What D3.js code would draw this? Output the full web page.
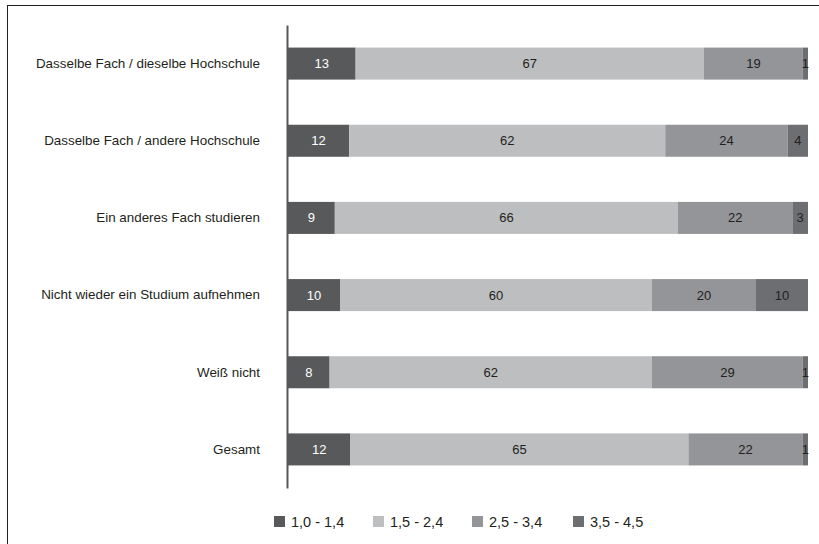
<!DOCTYPE html>
<html><head><meta charset="utf-8">
<script src="https://cdn.jsdelivr.net/npm/d3@7"></script>
<style>body{margin:0;background:#fff}svg{display:block}text{font-family:"Liberation Sans",Arial,sans-serif}</style>
</head><body><svg id="c" width="819" height="544"></svg>
<script>
const categories = ["Dasselbe Fach / dieselbe Hochschule","Dasselbe Fach / andere Hochschule","Ein anderes Fach studieren","Nicht wieder ein Studium aufnehmen","Weiß nicht","Gesamt"];
const seriesNames = ["1,0 - 1,4","1,5 - 2,4","2,5 - 3,4","3,5 - 4,5"];
const s1 = [13,12,9,10,8,12];
const s2 = [67,62,66,60,62,65];
const s3 = [19,24,22,20,29,22];
const s4 = [1,4,3,10,1,1];
const colors = ["#58595b","#bcbec0","#939598","#6d6e71"];
const labelColors = ["#ffffff","#231f20","#231f20","#231f20"];

const svg = d3.select("#c");
svg.append("rect").attr("x",7.5).attr("y",5.5).attr("width",830).attr("height",560)
  .attr("fill","none").attr("stroke","#231f20").attr("stroke-width",1);

const table = categories.map((c,i)=>({cat:c, a:s1[i], b:s2[i], c:s3[i], d:s4[i]}));
const keys = ["a","b","c","d"];
const stacked = d3.stack().keys(keys).offset(d3.stackOffsetExpand)(table);

const x = d3.scaleLinear().domain([0,1]).range([288,808]);
const y = d3.scaleBand().domain(categories).range([25,488]).paddingInner(0.585).paddingOuter(0.2925);

const g = svg.append("g");
stacked.forEach((layer,k)=>{
  const lg = g.append("g");
  lg.selectAll("rect").data(layer).join("rect")
    .attr("x",d=>x(d[0])).attr("y",d=>y(d.data.cat))
    .attr("width",d=>x(d[1])-x(d[0])).attr("height",y.bandwidth()).attr("fill",colors[k]);
  lg.selectAll("text").data(layer).join("text")
    .attr("x",d=>(x(d[0])+x(d[1]))/2).attr("y",d=>y(d.data.cat)+y.bandwidth()/2).attr("dy","0.35em")
    .attr("text-anchor","middle").attr("font-size",13).attr("fill",labelColors[k])
    .text(d=>d.data[keys[k]]);
});

const yAxis = d3.axisLeft(y).tickSize(0).tickPadding(27);
const ya = svg.append("g").attr("transform","translate(287,0)").call(yAxis);
ya.select(".domain").attr("stroke","#58595b").attr("stroke-width",2);
ya.selectAll("text").attr("font-size",13.4).attr("fill","#231f20").attr("font-family","Liberation Sans, Arial, sans-serif");

const legX = [274,373,472,573];
const leg = svg.append("g");
seriesNames.forEach((n,k)=>{
  leg.append("rect").attr("x",legX[k]).attr("y",516).attr("width",11).attr("height",11).attr("fill",colors[k]);
  leg.append("text").attr("x",legX[k]+17).attr("y",522).attr("dy","0.35em").attr("font-size",14.5).attr("fill","#231f20").text(n);
});
</script></body></html>
